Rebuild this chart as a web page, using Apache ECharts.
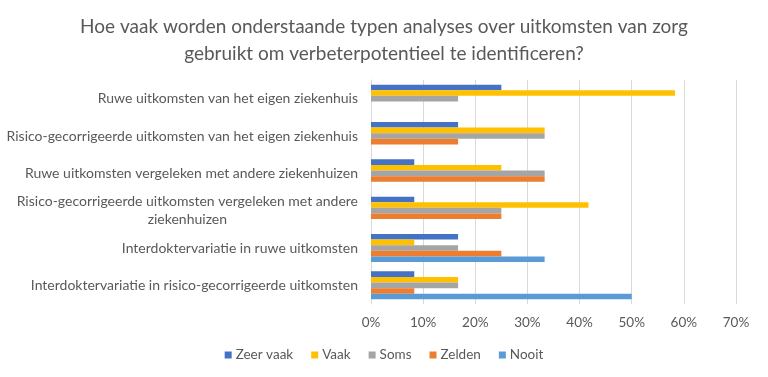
<!DOCTYPE html>
<html>
<head>
<meta charset="utf-8">
<script src="https://cdn.jsdelivr.net/npm/echarts@6/dist/echarts.min.js"></script>
<style>
  html, body { margin: 0; padding: 0; background: #fff; }
  #chart { width: 768px; height: 377px; }
</style>
</head>
<body>
<div id="chart"></div>
<script>
// categorieën (van boven naar onder)
const categories = [
    'Ruwe uitkomsten van het eigen ziekenhuis',
    'Risico-gecorrigeerde uitkomsten van het eigen ziekenhuis',
    'Ruwe uitkomsten vergeleken met andere ziekenhuizen',
    'Risico-gecorrigeerde uitkomsten vergeleken met andere\nziekenhuizen',
    'Interdoktervariatie in ruwe uitkomsten',
    'Interdoktervariatie in risico-gecorrigeerde uitkomsten'
];

// percentages per antwoord
const zeerVaak = [25, 16.7, 8.3, 8.3, 16.7, 8.3];
const vaak     = [58.3, 33.3, 25, 41.7, 8.3, 16.7];
const soms     = [16.7, 33.3, 33.3, 25, 16.7, 16.7];
const zelden   = [0, 16.7, 33.3, 25, 25, 8.3];
const nooit    = [0, 0, 0, 0, 33.3, 50];

const seriesNames = ['Zeer vaak', 'Vaak', 'Soms', 'Zelden', 'Nooit'];
const seriesData = [zeerVaak, vaak, soms, zelden, nooit];
const colors = ['#4472C4', '#FFC000', '#A5A5A5', '#ED7D31', '#5B9BD5'];

const xTicks = { min: 0, max: 70, interval: 10 };

const FONT = 'Lato';
const TXT = '#595959';

function initChart(dom){
    let chartDom = document.getElementById(dom);
    let chartInstance = echarts.getInstanceByDom(chartDom);
    if(chartInstance){
        return chartInstance;
    }
    return echarts.init(chartDom);
}

function buildOption(){
    let series = seriesNames.map(function(name, i){
        return {
            name: name,
            type: 'bar',
            data: seriesData[i],
            barGap: '0%',
            barCategoryGap: '25%',
            itemStyle: { color: colors[i] }
        };
    });

    return {
        animation: false,
        textStyle: { fontFamily: FONT },
        title: {
            text: 'Hoe vaak worden onderstaande typen analyses over uitkomsten van zorg\ngebruikt om verbeterpotentieel te identificeren?',
            left: 'center',
            top: 8,
            textStyle: {
                fontFamily: FONT,
                fontSize: 19,
                fontWeight: 'normal',
                color: TXT,
                lineHeight: 27,
                align: 'center'
            }
        },
        legend: {
            data: seriesNames,
            bottom: 10,
            left: 'center',
            icon: 'rect',
            itemWidth: 7,
            itemHeight: 7,
            itemGap: 18,
            textStyle: { fontFamily: FONT, fontSize: 13.5, color: TXT, padding: [0, 0, 0, -1] }
        },
        grid: {
            left: 371,
            right: 32,
            top: 80,
            bottom: 73,
            containLabel: false
        },
        xAxis: {
            type: 'value',
            min: xTicks.min,
            max: xTicks.max,
            interval: xTicks.interval,
            axisLine: { show: false },
            axisTick: { show: false },
            splitLine: { lineStyle: { color: '#D9D9D9', width: 1 } },
            axisLabel: {
                formatter: '{value}%',
                color: TXT,
                fontFamily: FONT,
                fontSize: 13.5,
                margin: 12
            }
        },
        yAxis: {
            type: 'category',
            data: categories,
            inverse: true,
            axisLine: { show: true, lineStyle: { color: '#D9D9D9' } },
            axisTick: { show: false },
            axisLabel: {
                color: TXT,
                fontFamily: FONT,
                fontSize: 14,
                margin: 13,
                formatter: function(v){
                    return v.split('\n').map(function(l){ return '{c|' + l + '}'; }).join('\n');
                },
                rich: {
                    c: { align: 'center', color: TXT, fontFamily: FONT, fontSize: 14, lineHeight: 18 }
                }
            }
        },
        series: series
    };
}

let chart = initChart('chart');
chart.setOption(buildOption());
</script>
</body>
</html>
